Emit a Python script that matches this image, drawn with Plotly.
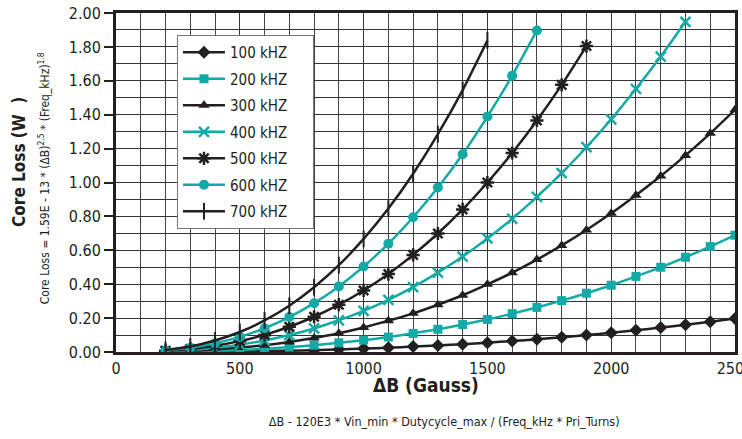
import plotly.graph_objects as go

# Flux density (Gauss)
delta_b = [200, 300, 400, 500, 600, 700, 800, 900, 1000, 1100, 1200, 1300,
           1400, 1500, 1600, 1700, 1800, 1900, 2000, 2100, 2200, 2300, 2400, 2500]

# Core loss (W) per frequency
loss_100 = [0.000, 0.001, 0.002, 0.004, 0.006, 0.008, 0.011, 0.015, 0.020, 0.025, 0.032, 0.039,
            0.046, 0.055, 0.065, 0.075, 0.087, 0.100, 0.113, 0.128, 0.144, 0.161, 0.179, 0.198]
loss_200 = [0.001, 0.003, 0.007, 0.012, 0.019, 0.029, 0.040, 0.054, 0.070, 0.088, 0.110, 0.134,
            0.162, 0.192, 0.226, 0.263, 0.303, 0.347, 0.394, 0.446, 0.500, 0.559, 0.622, 0.689]
loss_300 = [0.003, 0.007, 0.015, 0.026, 0.040, 0.059, 0.083, 0.111, 0.145, 0.184, 0.228, 0.279,
            0.335, 0.399, 0.468, 0.545, 0.629, 0.720, 0.818, 0.925, 1.038, 1.160, 1.290, 1.429]
loss_400 = [0.004, 0.012, 0.025, 0.043, 0.068, 0.100, 0.139, 0.187, 0.243, 0.308, 0.383, 0.468,
            0.563, 0.670, 0.786, 0.915, 1.055, 1.208, 1.373, 1.553, 1.743, 1.948]
loss_500 = [0.007, 0.018, 0.037, 0.064, 0.101, 0.149, 0.208, 0.279, 0.363, 0.460, 0.573, 0.699,
            0.841, 1.000, 1.174, 1.366, 1.576, 1.805]
loss_600 = [0.009, 0.025, 0.051, 0.089, 0.140, 0.206, 0.288, 0.387, 0.504, 0.639, 0.795, 0.971,
            1.167, 1.389, 1.630, 1.897]
loss_700 = [0.012, 0.033, 0.068, 0.118, 0.186, 0.273, 0.382, 0.512, 0.667, 0.846, 1.052, 1.285,
            1.545, 1.838]

series_names = ["100 kHZ", "200 kHZ", "300 kHZ", "400 kHZ", "500 kHZ", "600 kHZ", "700 kHZ"]
series_vals = [loss_100, loss_200, loss_300, loss_400, loss_500, loss_600, loss_700]

x_ticks = [0, 500, 1000, 1500, 2000, 2500]
y_ticks = [0.0, 0.2, 0.4, 0.6, 0.8, 1.0, 1.2, 1.4, 1.6, 1.8, 2.0]
y_tick_labels = ["0.00", "0.20", "0.40", "0.60", "0.80", "1.00", "1.20", "1.40", "1.60", "1.80", "2.00"]

BLACK = "#231f20"
TEAL = "#12aaa6"
FONT = "DejaVu Sans, sans-serif"

styles = [
    dict(color=BLACK, symbol="diamond", size=10, lw=0),
    dict(color=TEAL, symbol="square", size=9, lw=0),
    dict(color=BLACK, symbol="triangle-up", size=10, lw=0),
    dict(color=TEAL, symbol="x-thin-open", size=10, lw=2.5),
    dict(color=BLACK, symbol="asterisk-open", size=11, lw=2.5),
    dict(color=TEAL, symbol="circle", size=10, lw=0),
    dict(color=BLACK, symbol="line-ns-open", size=12, lw=2),
]

fig = go.Figure()
for name, vals, st in zip(series_names, series_vals, styles):
    fig.add_trace(go.Scatter(
        x=delta_b[:len(vals)], y=vals, name=name + "\u00a0\u00a0\u00a0", mode="lines+markers",
        legendgroup=name,
        line=dict(color=st["color"], width=2.5, shape="spline", smoothing=0.5),
        marker=dict(symbol=st["symbol"], size=st["size"], color=st["color"],
                    line=dict(color=st["color"], width=st["lw"])),
    ))

fig.update_layout(
    width=742, height=439,
    margin=dict(l=116, r=7, t=13, b=87),
    paper_bgcolor="white", plot_bgcolor="white",
    font=dict(family=FONT, color=BLACK, size=16),
    showlegend=True,
    legend=dict(
        x=0.0985, y=0.935, xanchor="left", yanchor="top",
        bgcolor="white", bordercolor="#777777", borderwidth=1,
        font=dict(family=FONT, size=15, color=BLACK),
        tracegroupgap=4, itemwidth=42,
    ),
    xaxis=dict(
        range=[0, 2500], tickvals=x_ticks, ticktext=[str(v) for v in x_ticks],
        showgrid=True, gridcolor="#333333", gridwidth=1,
        minor=dict(dtick=100, showgrid=True, gridcolor="#444444", gridwidth=1),
        showline=True, linecolor=BLACK, linewidth=3, mirror=True,
        ticks="", zeroline=False, tickfont=dict(size=16),
        ticklabeloverflow="allow", automargin=False,
    ),
    yaxis=dict(
        range=[0, 2.0], tickvals=y_ticks, ticktext=y_tick_labels,
        showgrid=True, gridcolor="#333333", gridwidth=1,
        minor=dict(dtick=0.1, showgrid=True, gridcolor="#333333", gridwidth=1),
        showline=True, linecolor=BLACK, linewidth=3, mirror=True,
        ticks="outside", ticklen=9, tickwidth=1.5, tickcolor=BLACK,
        zeroline=False, tickfont=dict(size=16), ticklabeloverflow="allow",
        automargin=False,
    ),
    annotations=[
        dict(text="<b>ΔB (Gauss)</b>", xref="paper", yref="paper", x=0.5, y=-0.097,
             xanchor="center", yanchor="middle", showarrow=False,
             font=dict(family=FONT, size=19, color=BLACK)),
        dict(text="ΔB - 120E3 * Vin_min * Dutycycle_max / (Freq_kHz * Pri_Turns)",
             xref="paper", yref="paper", x=0.53, y=-0.206, xanchor="center", yanchor="middle",
             showarrow=False, font=dict(family=FONT, size=12.5, color=BLACK)),
        dict(text="<b>Core Loss (W  )</b>", xref="paper", yref="paper", x=0, y=0.56,
             xanchor="center", yanchor="middle", xshift=-97, textangle=-90,
             showarrow=False, font=dict(family=FONT, size=17, color=BLACK)),
        dict(text="Core Loss = 1.59E - 13 * (ΔB)<sup>2.5</sup> * (Freq_kHz)<sup>1.8</sup>",
             xref="paper", yref="paper", x=0, y=0.512, xanchor="center", yanchor="middle",
             xshift=-72, textangle=-90, showarrow=False,
             font=dict(family=FONT, size=12, color=BLACK)),
    ],
)

post = ("document.body.style.margin='0';"
        "document.querySelectorAll('text').forEach(function(t){t.style.fontStretch='condensed';});")
fig.write_html("out.html", post_script=post, config={"displayModeBar": False})
